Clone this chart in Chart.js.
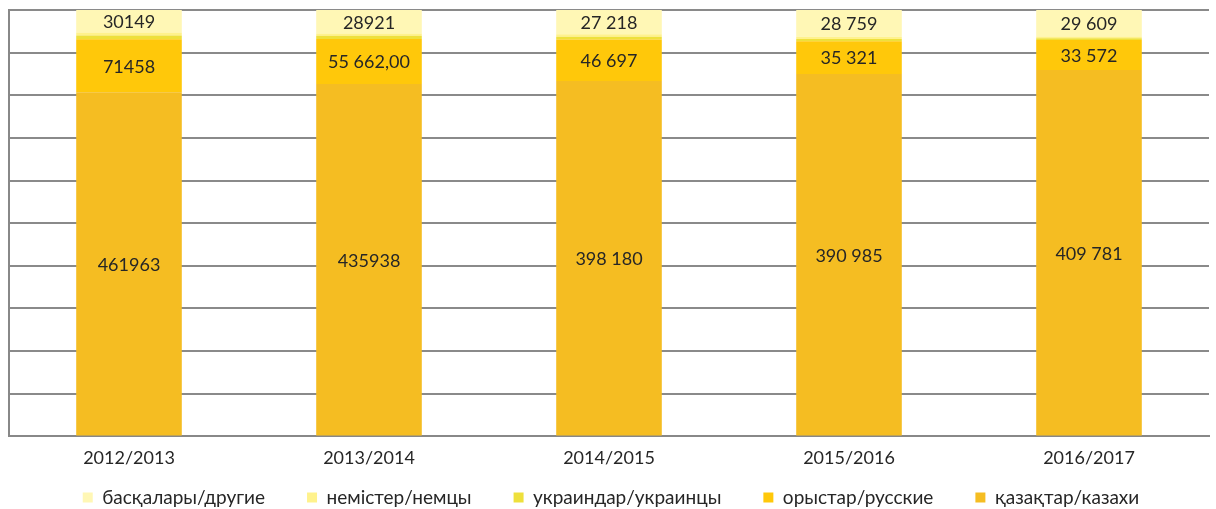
<!DOCTYPE html>
<html>
<head>
<meta charset="utf-8">
<script src="https://cdn.jsdelivr.net/npm/chart.js@4/dist/chart.umd.min.js"></script>
<style>
  html, body { margin: 0; padding: 0; background: #fff; }
  #wrap { width: 1216px; height: 509px; position: relative; }
</style>
</head>
<body>
<div id="wrap"><canvas id="c"></canvas></div>
<script>
// school years
const years = ["2012/2013", "2013/2014", "2014/2015", "2015/2016", "2016/2017"];

// pupils by nationality (small groups estimated)
const kazakhs    = [461963, 435938, 398180, 390985, 409781];
const russians   = [71458, 55662, 46697, 35321, 33572];
const ukrainians = [5000, 4000, 2900, 2500, 2000];
const germans    = [4000, 3000, 2800, 2500, 2000];
const others     = [30149, 28921, 27218, 28759, 29609];

// label texts as printed in the bars
const kazakhsLabels  = ["461963", "435938", "398 180", "390 985", "409 781"];
const russiansLabels = ["71458", "55 662,00", "46 697", "35 321", "33 572"];
const othersLabels   = ["30149", "28921", "27 218", "28 759", "29 609"];

const seriesNames = ["қазақтар/казахи", "орыстар/русские", "украиндар/украинцы", "немістер/немцы", "басқалары/другие"];
const seriesColors = ["#F5BD22", "#FFC80A", "#EEE03C", "#FFF28C", "#FFF7B5"];

const allSeries = [kazakhs, russians, ukrainians, germans, others];
const allLabels = [kazakhsLabels, russiansLabels, null, null, othersLabels];

// 100% stacked: share of each group in the year's total
const totals = years.map((_, i) => allSeries.reduce((s, arr) => s + arr[i], 0));

const datasets = allSeries.map((arr, k) => ({
    label: seriesNames[k],
    data: arr.map((v, i) => v / totals[i] * 100),
    backgroundColor: seriesColors[k],
    borderWidth: 0,
    barPercentage: 0.44,
    categoryPercentage: 1
}));

// draw the values in the middle of each segment
const centerLabels = {
    id: "centerLabels",
    afterDatasetsDraw(chart) {
        const ctx = chart.ctx;
        ctx.save();
        ctx.font = "18px Lato";
        ctx.fillStyle = "#262626";
        ctx.textAlign = "center";
        ctx.textBaseline = "middle";
        chart.data.datasets.forEach((ds, k) => {
            const texts = allLabels[k];
            if (!texts) return;
            chart.getDatasetMeta(k).data.forEach((bar, i) => {
                const mid = (bar.y + bar.base) / 2;
                ctx.fillText(texts[i], bar.x, mid + 1);
            });
        });
        ctx.restore();
    }
};

// keep the legend's wide item spacing without it eating vertical room
const legendSpacing = {
    id: "legendSpacing",
    beforeInit(chart) {
        const fit = chart.legend.fit;
        chart.legend.fit = function () {
            fit.call(this);
            this.height = 37;
        };
    },
    afterLayout(chart) {
        chart.legend.top = 446;
        chart.legend.left += 4;
    }
};

Chart.defaults.font.family = "Lato";
Chart.defaults.color = "#262626";

new Chart(document.getElementById("c"), {
    type: "bar",
    data: { labels: years, datasets: datasets },
    options: {
        responsive: true,
        maintainAspectRatio: false,
        animation: false,
        layout: { padding: { left: 9, right: 7, top: 10, bottom: 0 } },
        scales: {
            x: {
                stacked: true,
                grid: { display: false },
                border: { display: true, color: "#888", width: 2 },
                ticks: { font: { size: 18 }, padding: 3, color: "#262626" }
            },
            y: {
                stacked: true,
                min: 0,
                max: 100,
                ticks: { display: false, stepSize: 10 },
                grid: { color: "#8a8a8a", lineWidth: 2, drawTicks: false },
                border: { display: true, color: "#888", width: 2 }
            }
        },
        plugins: {
            legend: {
                position: "bottom",
                reverse: true,
                labels: {
                    boxWidth: 10,
                    boxHeight: 10,
                    padding: 42,
                    font: { size: 19 },
                    color: "#262626"
                }
            },
            tooltip: { enabled: false }
        }
    },
    plugins: [centerLabels, legendSpacing]
});
</script>
</body>
</html>
